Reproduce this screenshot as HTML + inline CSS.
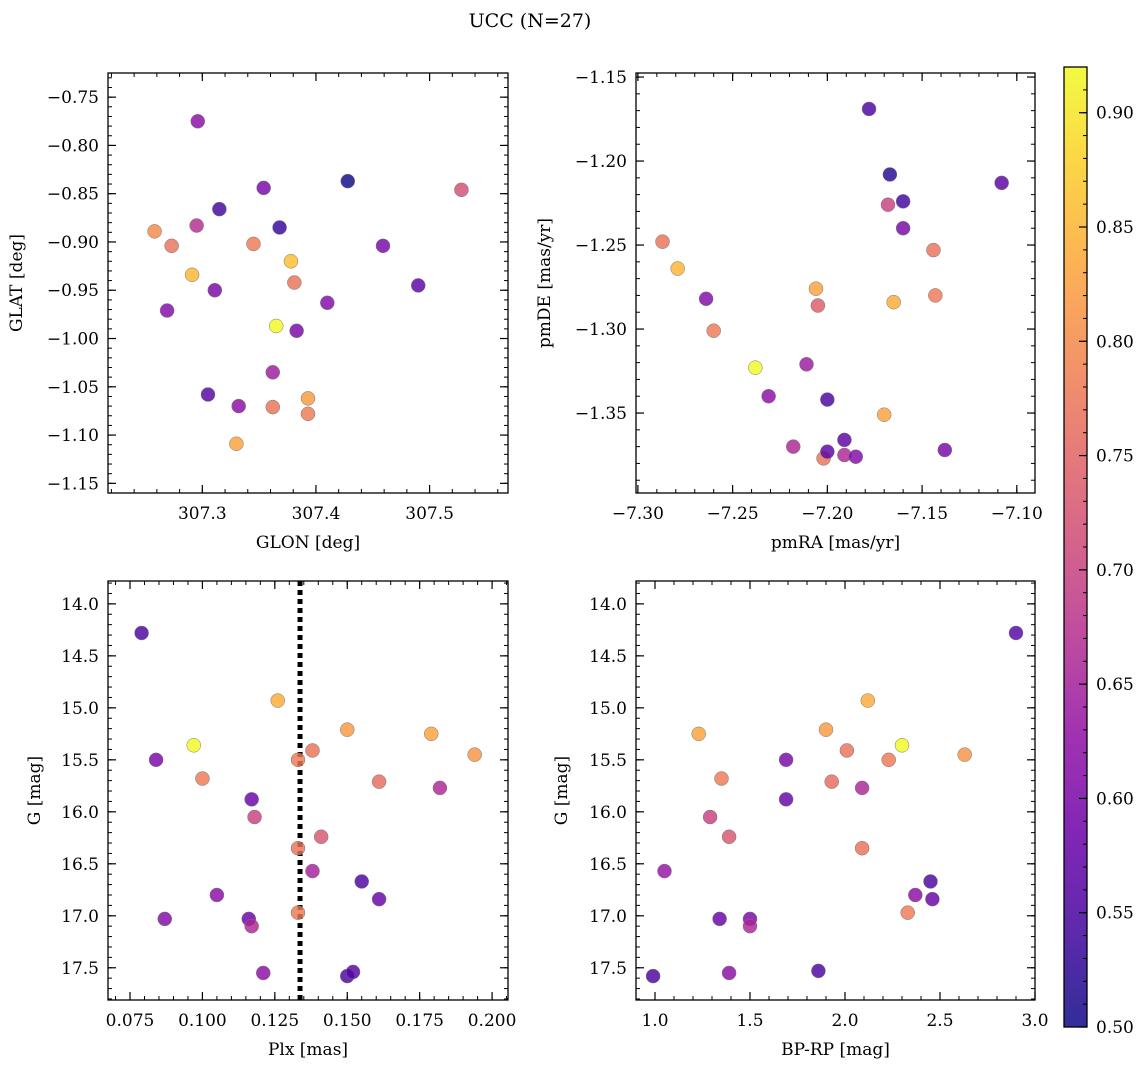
<!DOCTYPE html>
<html><head><meta charset="utf-8"><style>
html,body{margin:0;padding:0;background:#fff}
svg{display:block;font-family:"DejaVu Serif","Liberation Serif",serif}
</style></head><body>
<svg id="fig" width="1148" height="1067" viewBox="0 0 1148 1067" xmlns="http://www.w3.org/2000/svg">
<text x="530" y="27" font-size="19" text-anchor="middle">UCC (N=27)</text>
</svg>
<script>
// ---- data ----
const glon=[307.296,307.354,307.428,307.528,307.315,307.258,307.273,307.295,307.345,307.368,307.378,307.459,307.291,307.381,307.311,307.490,307.269,307.410,307.365,307.383,307.362,307.305,307.332,307.362,307.393,307.393,307.330];
const glat=[-0.775,-0.844,-0.837,-0.846,-0.866,-0.889,-0.904,-0.883,-0.902,-0.885,-0.920,-0.904,-0.934,-0.942,-0.950,-0.945,-0.971,-0.963,-0.987,-0.992,-1.035,-1.058,-1.070,-1.071,-1.062,-1.078,-1.109];
const probTL=[0.62,0.60,0.50,0.72,0.54,0.80,0.77,0.67,0.78,0.53,0.86,0.60,0.85,0.77,0.60,0.57,0.61,0.61,0.92,0.60,0.64,0.56,0.62,0.77,0.82,0.78,0.83];
const pmra=[-7.287,-7.279,-7.264,-7.260,-7.238,-7.231,-7.218,-7.211,-7.206,-7.205,-7.202,-7.200,-7.200,-7.191,-7.191,-7.185,-7.178,-7.170,-7.167,-7.168,-7.165,-7.160,-7.160,-7.144,-7.143,-7.138,-7.108];
const pmde=[-1.248,-1.264,-1.282,-1.301,-1.323,-1.340,-1.370,-1.321,-1.276,-1.286,-1.377,-1.373,-1.342,-1.366,-1.375,-1.376,-1.169,-1.351,-1.208,-1.226,-1.284,-1.224,-1.240,-1.253,-1.280,-1.372,-1.213];
const probTR=[0.77,0.85,0.61,0.78,0.92,0.62,0.66,0.64,0.83,0.74,0.77,0.57,0.55,0.57,0.66,0.61,0.55,0.83,0.52,0.70,0.84,0.54,0.60,0.77,0.78,0.60,0.57];
const plx=[0.079,0.126,0.084,0.097,0.100,0.133,0.138,0.150,0.179,0.194,0.161,0.182,0.117,0.118,0.141,0.133,0.138,0.155,0.105,0.161,0.087,0.116,0.117,0.133,0.121,0.150,0.152];
const gmagBL=[14.28,14.93,15.50,15.36,15.68,15.50,15.41,15.21,15.25,15.45,15.71,15.77,15.88,16.05,16.24,16.35,16.57,16.67,16.80,16.84,17.03,17.03,17.10,16.97,17.55,17.58,17.54];
const probBL=[0.55,0.84,0.60,0.92,0.78,0.78,0.77,0.82,0.83,0.81,0.76,0.66,0.58,0.70,0.73,0.77,0.65,0.55,0.62,0.58,0.61,0.58,0.66,0.78,0.62,0.55,0.56];
const bprp=[2.90,2.12,1.23,2.30,1.90,2.01,2.23,2.63,1.69,1.35,1.93,2.09,1.69,1.29,1.39,2.09,1.05,2.45,2.37,2.46,1.34,1.50,1.50,2.33,0.99,1.39,1.86];
const gmagBR=[14.28,14.93,15.25,15.36,15.21,15.41,15.50,15.45,15.50,15.68,15.71,15.77,15.88,16.05,16.24,16.35,16.57,16.67,16.80,16.84,17.03,17.03,17.10,16.97,17.58,17.55,17.53];
const probBR=[0.56,0.84,0.83,0.92,0.82,0.77,0.78,0.81,0.60,0.78,0.76,0.66,0.58,0.70,0.73,0.77,0.63,0.55,0.62,0.58,0.58,0.60,0.66,0.78,0.55,0.62,0.55];
const plxLine=0.1337;
const cbTicks=[0.50,0.55,0.60,0.65,0.70,0.75,0.80,0.85,0.90];
const cMin=0.5, cMax=0.92;

const NS="http://www.w3.org/2000/svg";
const svg=document.getElementById('fig');
function el(tag,attrs,parent){const e=document.createElementNS(NS,tag);for(const k in attrs)e.setAttribute(k,attrs[k]);(parent||svg).appendChild(e);return e;}
const stops=[[13,8,135],[65,4,157],[106,0,168],[143,13,164],[177,42,144],[204,71,120],[225,100,98],[242,132,75],[252,166,54],[252,206,37],[240,249,33]];
function plasma(t){t=Math.max(0,Math.min(1,t));const f=t*10,i=Math.min(9,Math.floor(f)),r=f-i;const a=stops[i],b=stops[i+1];return 'rgb('+a.map((v,k)=>Math.round(v+(b[k]-v)*r)).join(',')+')';}
function cmap(v){return plasma((v-cMin)/(cMax-cMin));}
function fmt(v,d){return (v<0?'\u2212':'')+Math.abs(v).toFixed(d);}

function panel(o){
  const g=el('g',{});
  
  
  const sx=v=>o.x0+(v-o.xd[0])/(o.xd[1]-o.xd[0])*(o.x1-o.x0);
  const sy=v=>o.y0+(v-o.yd[0])/(o.yd[1]-o.yd[0])*(o.y1-o.y0);
  const eps=1e-9;
  function ticks(d0,d1,step){const a=[];const lo=Math.min(d0,d1),hi=Math.max(d0,d1);for(let v=Math.ceil(lo/step-eps)*step;v<=hi+eps;v+=step)a.push(v);return a;}
  ticks(o.xd[0],o.xd[1],o.xminor).forEach(v=>{const x=sx(v);el('line',{x1:x,x2:x,y1:o.y1,y2:o.y1-4,stroke:'#000','stroke-width':1},g);el('line',{x1:x,x2:x,y1:o.y0,y2:o.y0+4,stroke:'#000','stroke-width':1},g);});
  ticks(o.yd[0],o.yd[1],o.yminor).forEach(v=>{const y=sy(v);el('line',{x1:o.x0,x2:o.x0+4,y1:y,y2:y,stroke:'#000','stroke-width':1},g);el('line',{x1:o.x1,x2:o.x1-4,y1:y,y2:y,stroke:'#000','stroke-width':1},g);});
  o.xt.forEach(v=>{const x=sx(v);el('line',{x1:x,x2:x,y1:o.y1,y2:o.y1-8,stroke:'#000','stroke-width':1.2},g);el('line',{x1:x,x2:x,y1:o.y0,y2:o.y0+8,stroke:'#000','stroke-width':1.2},g);
    const t=el('text',{x:x,y:o.y1+26,'font-size':17,'text-anchor':'middle'},g);t.textContent=fmt(v,o.xdec);
    });
  o.yt.forEach(v=>{const y=sy(v);el('line',{x1:o.x0,x2:o.x0+8,y1:y,y2:y,stroke:'#000','stroke-width':1.2},g);el('line',{x1:o.x1,x2:o.x1-8,y1:y,y2:y,stroke:'#000','stroke-width':1.2},g);
    const t=el('text',{x:o.x0-9,y:y+6,'font-size':17,'text-anchor':'end'},g);t.textContent=fmt(v,o.ydec);
    });
  if(o.vline!==undefined){const x=sx(o.vline);const l=el('line',{x1:x,x2:x,y1:o.y0,y2:o.y1,stroke:'#000','stroke-width':5,'stroke-dasharray':'5 4'},g);
    }
  o.xs.forEach((v,i)=>{const c=el('circle',{cx:sx(v),cy:sy(o.ys[i]),r:7,fill:cmap(o.cs[i]),'fill-opacity':0.82,stroke:'#777','stroke-width':0.5},g);
    });
  el('rect',{x:o.x0,y:o.y0,width:o.x1-o.x0,height:o.y1-o.y0,fill:'none',stroke:'#000','stroke-width':1.3},g);
  const xl=el('text',{x:(o.x0+o.x1)/2,y:o.y1+55,'font-size':17,'text-anchor':'middle'},g);xl.textContent=o.xlab;
  
  const yx=o.ylx,yy=(o.y0+o.y1)/2;
  const yl=el('text',{x:yx,y:yy,'font-size':17,'text-anchor':'middle',transform:'rotate(-90 '+yx+' '+yy+')'},g);yl.textContent=o.ylab;
  
}
panel({name:'glon-glat-panel',x0:108,x1:508,y0:73,y1:493,xd:[307.217,307.569],yd:[-0.725,-1.160],xt:[307.3,307.4,307.5],yt:[-0.75,-0.8,-0.85,-0.9,-0.95,-1.0,-1.05,-1.1,-1.15],xminor:0.02,yminor:0.01,xdec:1,ydec:2,xs:glon,ys:glat,cs:probTL,xlab:'GLON [deg]',ylab:'GLAT [deg]',ylx:22});
panel({name:'pm-panel',x0:636,x1:1035,y0:73,y1:493,xd:[-7.301,-7.0904],yd:[-1.1476,-1.3976],xt:[-7.3,-7.25,-7.2,-7.15,-7.1],yt:[-1.15,-1.2,-1.25,-1.3,-1.35],xminor:0.01,yminor:0.01,xdec:2,ydec:2,xs:pmra,ys:pmde,cs:probTR,xlab:'pmRA [mas/yr]',ylab:'pmDE [mas/yr]',ylx:550});
panel({name:'plx-g-panel',x0:108,x1:508,y0:581,y1:1000,xd:[0.0674,0.2055],yd:[13.78,17.81],xt:[0.075,0.1,0.125,0.15,0.175,0.2],yt:[14,14.5,15,15.5,16,16.5,17,17.5],xminor:0.005,yminor:0.1,xdec:3,ydec:1,xs:plx,ys:gmagBL,cs:probBL,xlab:'Plx [mas]',ylab:'G [mag]',ylx:40,vline:plxLine});
panel({name:'cmd-panel',x0:636,x1:1035,y0:581,y1:1000,xd:[0.9,3.0],yd:[13.78,17.81],xt:[1,1.5,2,2.5,3],yt:[14,14.5,15,15.5,16,16.5,17,17.5],xminor:0.1,yminor:0.1,xdec:1,ydec:1,xs:bprp,ys:gmagBR,cs:probBR,xlab:'BP-RP [mag]',ylab:'G [mag]',ylx:567});

// colorbar
const cb=el('g',{});


const cx0=1064,cx1=1087,cy0=67,cy1=1027;
const defs=el('defs',{},cb);
const lg=el('linearGradient',{id:'cbg',x1:0,y1:1,x2:0,y2:0},defs);
for(let i=0;i<=20;i++){el('stop',{offset:(i/20),'stop-color':plasma(i/20),'stop-opacity':0.85},lg);}
el('rect',{x:cx0,y:cy0,width:cx1-cx0,height:cy1-cy0,fill:'url(#cbg)'},cb);
const cy=v=>cy1-(v-cMin)/(cMax-cMin)*(cy1-cy0);
for(let v=0.5;v<=cMax+1e-9;v+=0.01){const y=cy(v);el('line',{x1:cx1,x2:cx1-4,y1:y,y2:y,stroke:'#000','stroke-width':1},cb);}
cbTicks.forEach(v=>{const y=cy(v);el('line',{x1:cx1,x2:cx1-8,y1:y,y2:y,stroke:'#000','stroke-width':1.2},cb);
  const t=el('text',{x:cx1+9,y:y+6,'font-size':17},cb);t.textContent=v.toFixed(2);
  });
el('rect',{x:cx0,y:cy0,width:cx1-cx0,height:cy1-cy0,fill:'none',stroke:'#000','stroke-width':1.3},cb);
</script>
</body></html>
